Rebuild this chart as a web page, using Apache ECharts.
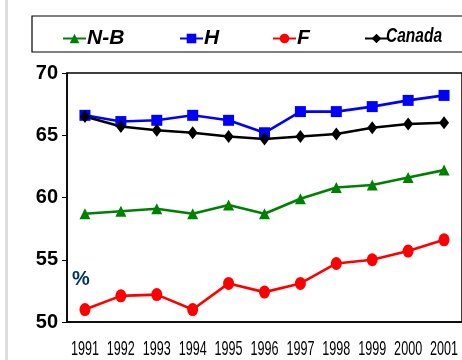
<!DOCTYPE html>
<html>
<head>
<meta charset="utf-8">
<script src="https://cdn.jsdelivr.net/npm/echarts@6/dist/echarts.min.js"></script>
<style>
html,body{margin:0;padding:0;background:#fff;}
#chart{width:462px;height:360px;}
</style>
</head>
<body>
<div id="chart"></div>
<script>
// Participation rate (%) by year
const years = ['1991','1992','1993','1994','1995','1996','1997','1998','1999','2000','2001'];
const nbValues = [58.7, 58.9, 59.1, 58.7, 59.4, 58.7, 59.9, 60.8, 61.0, 61.6, 62.2];
const hValues = [66.6, 66.1, 66.2, 66.6, 66.2, 65.2, 66.9, 66.9, 67.3, 67.8, 68.2];
const fValues = [51.0, 52.1, 52.2, 51.0, 53.1, 52.4, 53.1, 54.7, 55.0, 55.7, 56.6];
const canadaValues = [66.5, 65.7, 65.4, 65.2, 64.9, 64.7, 64.9, 65.1, 65.6, 65.9, 66.0];
const yTicks = [50, 55, 60, 65, 70];

const chart = echarts.init(document.getElementById('chart'));

const legendFont = {
  fontFamily: 'Liberation Sans, Arial',
  fontWeight: 'bold', fontStyle: 'italic', fontSize: 21, color: '#000'
};
function oneLegend(name, left, showText) {
  return {
    data: [name], left: left, top: 23, itemWidth: 23, itemHeight: 12, itemGap: 2,
    formatter: showText ? '{name}' : ' ',
    textStyle: Object.assign({ padding: [0, 0, 0, -4] }, legendFont)
  };
}

function lineSeries(name, data, color, symbol, size) {
  return {
    name: name, type: 'line', data: data, symbol: symbol, symbolSize: size,
    lineStyle: { color: color, width: 2.6 },
    itemStyle: { color: color },
    z: 3
  };
}

const baseGraphic = [
  { type: 'rect', shape: { x: 5, y: 0, width: 3, height: 360 }, style: { fill: '#dddddd' } },
  { type: 'rect', shape: { x: 32, y: 16, width: 440, height: 36 },
    style: { fill: 'none', stroke: '#000', lineWidth: 1.2 } },
  { type: 'text', left: 72, top: 269,
    style: { text: '%', fill: '#003366', font: 'bold 20px Liberation Sans, Arial' } },
  // condensed legend name for the national series
  { type: 'text', x: 386, y: 36, scaleX: 0.74,
    style: { text: 'Canada', fill: '#000', align: 'left', verticalAlign: 'middle',
             font: 'italic bold 21px Liberation Sans, Arial' } }
];

chart.setOption({
  animation: false,
  backgroundColor: '#fff',
  graphic: baseGraphic,
  legend: [
    oneLegend('N-B', 57, true),
    oneLegend('H', 174, true),
    oneLegend('F', 267, true),
    oneLegend('Canada', 359, false)
  ],
  grid: { left: 67, top: 73, width: 401, height: 249, show: true, borderColor: '#000', borderWidth: 1.5 },
  xAxis: {
    type: 'category', data: years, boundaryGap: true,
    axisLine: { lineStyle: { color: '#000', width: 1.5 } },
    axisTick: { length: 6, lineStyle: { color: '#000', width: 1 } },
    axisLabel: { show: false }
  },
  yAxis: {
    type: 'value', min: yTicks[0], max: yTicks[yTicks.length - 1], interval: 5,
    axisLine: { show: true, lineStyle: { color: '#000', width: 1.5 } },
    axisTick: { show: true, length: 5, lineStyle: { color: '#000' } },
    splitLine: { show: false },
    axisLabel: {
      margin: 9, fontSize: 20, fontWeight: 'bold', color: '#000',
      fontFamily: 'Liberation Sans, Arial'
    }
  },
  series: [
    lineSeries('N-B', nbValues, '#008000', 'triangle', 11),
    lineSeries('H', hValues, '#0000ff', 'rect', 11),
    lineSeries('F', fValues, '#ff0000', 'circle', [11, 13]),
    lineSeries('Canada', canadaValues, '#000000', 'diamond', [10, 13])
  ]
});

// Condensed year labels placed under each category through the axis scale
const axisBottom = chart.convertToPixel({ yAxisIndex: 0 }, yTicks[0]);
const yearLabels = years.map(function (yr) {
  return {
    type: 'text',
    x: chart.convertToPixel({ xAxisIndex: 0 }, yr),
    y: axisBottom + 27,
    scaleX: 0.6,
    style: { text: yr, fill: '#000', align: 'center', verticalAlign: 'middle',
             font: '21px Liberation Sans, Arial' }
  };
});
chart.setOption({ graphic: baseGraphic.concat(yearLabels) });
</script>
</body>
</html>
